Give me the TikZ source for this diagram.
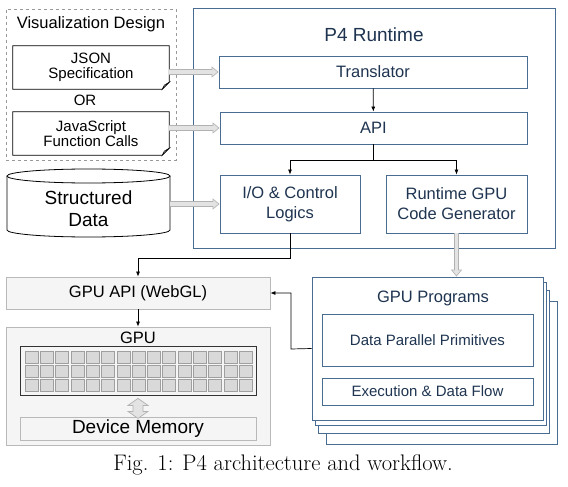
\documentclass[tikz,border=0pt]{standalone}
\usepackage{fontspec}
\setsansfont{Liberation Sans}
\usetikzlibrary{arrows.meta,positioning}
\definecolor{rtblue}{RGB}{72,108,146}
\definecolor{rttext}{RGB}{30,52,80}

\newcommand{\docbox}[1]{%
  \draw[line width=0.8pt] (#1.north west) -- (#1.north east) -- ([yshift=7pt]#1.south east)
    -- ([xshift=-7pt]#1.south east) -- (#1.south west) -- cycle;
  \draw[fill=gray!60, line width=0.5pt] ([yshift=7pt]#1.south east) -- ([xshift=-5pt,yshift=4pt]#1.south east)
    -- ([xshift=-7pt]#1.south east) -- cycle;}

\begin{document}
\begin{tikzpicture}[x=1pt,y=-1pt,
    fa/.style={font=\sffamily\fontsize{15}{15}\selectfont},
    fb/.style={font=\sffamily\fontsize{16.5}{20}\selectfont},
    fc/.style={font=\sffamily\fontsize{19}{22}\selectfont},
    box/.style={draw=rtblue,line width=0.9pt,fill=white,text=rttext,align=center,inner sep=0pt},
    gbox/.style={draw=gray!55,line width=0.8pt,fill=gray!8,align=center,inner sep=0pt},
    doc/.style={fa,align=center,inner sep=0pt,minimum width=156pt,minimum height=43pt},
    cell/.style={draw=gray!75,fill=gray!30,line width=0.6pt},
    arr/.style={-{Latex[length=5pt,width=4pt]},line width=0.7pt},
    fat/.style={line width=5.4pt,draw=gray!60,-{Triangle[length=7pt,width=11pt]},
      postaction={draw=gray!22,line width=3.6pt,shorten >=1.3pt,-{Triangle[length=5pt,width=8pt]}}},
    hollow/.style={fill=gray!22,draw=gray!60,line width=0.7pt,line join=miter}]
  \useasboundingbox (0,0) rectangle (568,487);

  % visualization design
  \node[draw=gray!80,dashed,line width=0.8pt,minimum width=170pt,minimum height=151pt] (viz) at (91,84.5) {};
  \node[fb] (viztitle) at (91,24) {Visualization Design};
  \node[doc] (json) at (91,67.5) {JSON\\Specification};
  \node[fa] (or) at (85,100) {OR};
  \node[doc] (js) at (91,133.5) {JavaScript\\Function Calls};
  \docbox{json}
  \docbox{js}

  % structured data
  \node[minimum width=163pt,minimum height=68pt] (data) at (88.5,203) {};
  \draw[fill=white,line width=0.8pt] (7,176) -- (7,230) arc[start angle=180,end angle=0,x radius=81.5,y radius=7] -- (170,176);
  \draw[fill=white,line width=0.8pt] (88.5,176) ellipse[x radius=81.5,y radius=7];
  \node[fc,align=center] (datatext) at (88.5,209) {Structured\\Data};

  % P4 runtime
  \node[box,line width=1pt,minimum width=362pt,minimum height=239pt] (p4) at (374,128.5) {};
  \node[fc,text=rttext] (p4title) at (374,35) {P4 Runtime};
  \node[box,fb,minimum width=308pt,minimum height=32pt] (trans) at (373,72) {Translator};
  \node[box,fb,minimum width=307pt,minimum height=32pt] (api) at (373.5,128) {API};
  \node[box,fb,minimum width=140pt,minimum height=58pt] (io) at (290,204) {I/O \& Control\\Logics};
  \node[box,fb,minimum width=141pt,minimum height=58pt] (gen) at (456.5,204) {Runtime GPU\\Code Generator};
  \coordinate (split) at (373.5,160);

  \draw[arr] (trans) -- (api);
  \draw[arr] (api.south) -- (split) -| (io.north);
  \draw[arr] (split) -| (gen.north);

  \draw[fat] (json.east |- trans.west) -- (trans.west);
  \draw[fat] (js.east |- api.west) -- (api.west);
  \draw[fat] (170,204) -- (io.west);

  % GPU side
  \node[gbox,fb,minimum width=264pt,minimum height=32pt] (gpuapi) at (138,293) {GPU API (WebGL)};
  \node[gbox,minimum width=264pt,minimum height=118pt] (gpu) at (138,386) {};
  \node[fb] (gputitle) at (138,338) {GPU};
  \node[draw=black!80,line width=0.8pt,fill=gray!8,minimum width=236pt,minimum height=49pt] (cores) at (138,370.5) {};
  \foreach \i in {0,...,14}
    \foreach \j in {0,1,2}
      \draw[cell] ({25+15.3*\i},{351+14.3*\j}) rectangle ++(13,12);
  \node[gbox,fc,minimum width=236pt,minimum height=23pt] (mem) at (138,428.5) {Device Memory};
  % two-way arrow between cores and memory
  \draw[hollow] ([yshift=-3pt]cores.south) -- ++(10,7) -- ++(-5,0) -- ++(0,6) -- ++(5,0) -- ++(-10,7)
    -- ++(-10,-7) -- ++(5,0) -- ++(0,-6) -- ++(-5,0) -- cycle;

  \coordinate (bend) at (138,258);
  \draw[arr] (io.south) |- (bend) -- (gpuapi.north);
  \draw[arr] (gpuapi) -- (gpu);

  % GPU programs (stacked)
  \foreach \dx/\dy [count=\k] in {14/24,6/13,3/5}
    \node[box,minimum width=231pt,minimum height=143pt] (prog\k) at (427.5+\dx,348.5+\dy) {};
  \node[box,minimum width=231pt,minimum height=143pt] (prog) at (427.5,348.5) {};
  \node[fb,text=rttext] (progtitle) at (433,298) {GPU Programs};
  \node[box,fa,minimum width=211pt,minimum height=52pt] (dpp) at (427.5,340) {Data Parallel Primitives};
  \node[box,fa,minimum width=211pt,minimum height=27pt] (exec) at (427.5,391.5) {Execution \& Data Flow};

  \draw[fat] (gen.south) -- (prog.north -| gen.south);
  \coordinate (back) at (291,349);
  \draw[arr] (prog.west) -- (back) |- (gpuapi.east);

  \node[font=\fontsize{22.5}{26}\selectfont] (caption) at (283,465) {Fig. 1: P4 architecture and workflow.};
\end{tikzpicture}
\end{document}
